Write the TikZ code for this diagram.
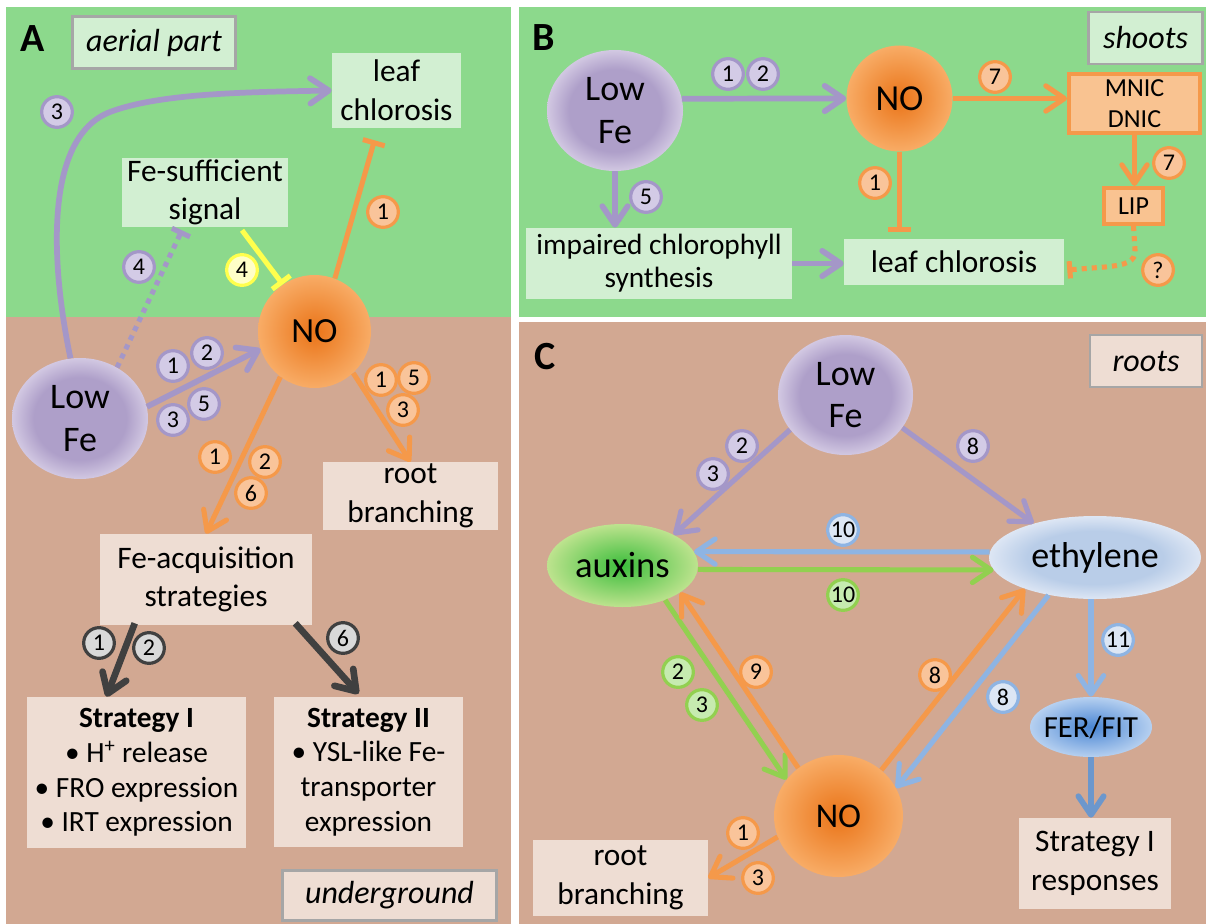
\documentclass[tikz,border=0pt]{standalone}
\usepackage{fontspec}
\setmainfont{Carlito}
\usetikzlibrary{arrows.meta,shapes.geometric,calc}
\definecolor{bggreen}{HTML}{8CD98C}
\definecolor{bgbrown}{HTML}{D2A892}
\definecolor{gbx}{HTML}{D2EFD2}
\definecolor{bbx}{HTML}{EEDDD3}
\definecolor{lblline}{HTML}{A6A6A6}
\definecolor{pline}{HTML}{A497C8}
\definecolor{pfill}{HTML}{D3CBE6}
\definecolor{oline}{HTML}{F5994A}
\definecolor{ofill}{HTML}{F9C49A}
\definecolor{yline}{HTML}{FFFF4D}
\definecolor{yfill}{HTML}{FFFFC8}
\definecolor{kline}{HTML}{404040}
\definecolor{kfill}{HTML}{D9D9D9}
\definecolor{bline}{HTML}{8EB4E3}
\definecolor{bfill}{HTML}{DCE6F4}
\definecolor{gline}{HTML}{92D050}
\definecolor{gfill}{HTML}{C6EBB0}
\definecolor{dbline}{HTML}{6C97CC}
\definecolor{mfill}{HTML}{F9C391}
\definecolor{lfin}{HTML}{AE9FC9}
\definecolor{lfout}{HTML}{D2C8E2}
\definecolor{noin}{HTML}{EA7418}
\definecolor{noout}{HTML}{F8AC66}
\definecolor{auin}{HTML}{3CBD3C}
\definecolor{auout}{HTML}{BDE38E}
\definecolor{etin}{HTML}{B9CDE8}
\definecolor{etout}{HTML}{DDE6F4}
\definecolor{ffin}{HTML}{4A86D4}
\definecolor{ffout}{HTML}{B6D0F0}
\pgfdeclareradialshading{lfshade}{\pgfpoint{0bp}{0bp}}{color(0bp)=(lfin); color(17bp)=(lfin); color(25bp)=(lfout); color(50bp)=(lfout)}
\pgfdeclareradialshading{noshade}{\pgfpoint{0bp}{0bp}}{color(0bp)=(noin); color(25bp)=(noout); color(50bp)=(noout)}
\pgfdeclareradialshading{aushade}{\pgfpoint{0bp}{0bp}}{color(0bp)=(auin); color(25bp)=(auout); color(50bp)=(auout)}
\pgfdeclareradialshading{etshade}{\pgfpoint{0bp}{0bp}}{color(0bp)=(etin); color(16bp)=(etin); color(25bp)=(etout); color(50bp)=(etout)}
\pgfdeclareradialshading{ffshade}{\pgfpoint{0bp}{0bp}}{color(0bp)=(ffin); color(25bp)=(ffout); color(50bp)=(ffout)}
\newcommand\fsz[2]{\fontsize{#1}{#2}\selectfont}
\begin{document}
\begin{tikzpicture}[x=0.75pt,y=-0.75pt,
  every node/.style={inner sep=0pt, align=center},
  gbox/.style={fill=gbx, font=\fsz{23.5}{29}},
  bbox/.style={fill=bbx, font=\fsz{23.5}{29}},
  lblbox/.style={draw=lblline, line width=2.2pt, font=\fsz{24}{24}\itshape},
  plab/.style={font=\fsz{30}{30}\bfseries},
  oval/.style={ellipse, font=\fsz{27}{32}},
  badge/.style={circle, minimum size=23pt, line width=2.4pt, font=\fsz{18}{18}},
  bp/.style={badge, fill=pfill, draw=pline},
  bo/.style={badge, fill=ofill, draw=oline},
  by/.style={badge, fill=yfill, draw=yline},
  bk/.style={badge, fill=kfill, draw=kline},
  bb/.style={badge, fill=bfill, draw=bline},
  bg/.style={badge, fill=gfill, draw=gline},
  >={Straight Barb[length=14pt,width=19pt,round]},
  pa/.style={draw=pline, line width=4.3pt, ->},
  oa/.style={draw=oline, line width=3.8pt, ->},
  ob/.style={draw=oline, line width=3.8pt, -{Bar[width=17pt]}},
  ka/.style={draw=kline, line width=5pt, ->},
  ba/.style={draw=bline, line width=3.8pt, ->},
  ga/.style={draw=gline, line width=3.8pt, ->},
  dba/.style={draw=dbline, line width=4.3pt, ->},
  dotl/.style={line width=3.8pt, dash pattern=on 3.8pt off 3.8pt}
]
\useasboundingbox (0,0) rectangle (1206,924);
\fill[white] (0,0) rectangle (1206,924);
\fill[bggreen] (6,7) rectangle (511,317);
\fill[bgbrown] (6,317) rectangle (511,924);
\fill[bggreen] (519,7) rectangle (1206,317);
\fill[bgbrown] (519,322) rectangle (1206,924);

% ---------------- Panel A ----------------
\node[plab] (labA) at (33,39) {A};
\node[lblbox, fill=gbx, minimum width=122pt, minimum height=39.5pt] (aer) at (154,42.5) {aerial part};
\node[gbox, minimum width=96.75pt, minimum height=56.25pt] (lcA) at (396.5,90.5) {leaf\\chlorosis};
\node[gbox, minimum width=124.5pt, minimum height=51.75pt] (fes) at (205,192.5) {Fe-sufficient\\signal};
\node[circle, shading=noshade, minimum size=84.75pt, font=\fsz{26.5}{26.5}] (noA) at (314.5,331.5) {NO};
\node[oval, shading=lfshade, minimum width=102pt, minimum height=90.75pt] (lfA) at (80,418.5) {Low\\Fe};
\node[bbox, minimum width=131.25pt, minimum height=51pt] (rbA) at (410.5,496) {root\\branching};
\node[bbox, minimum width=159pt, minimum height=68.25pt] (faq) at (206,579.5) {Fe-acquisition\\strategies};
\node[bbox, font=\fsz{22}{26}, minimum width=164.25pt, minimum height=113.25pt] (s1) at (136.5,772.5)
  {\textbf{Strategy I}\\• H\textsuperscript{+} release\\• FRO expression\\• IRT expression};
\node[bbox, font=\fsz{22}{26}, minimum width=141.75pt, minimum height=112.5pt] (s2) at (368.5,772)
  {\textbf{Strategy II}\\• YSL-like Fe-\\transporter\\expression};
\node[lblbox, fill=bbx, minimum width=161pt, minimum height=38pt] (ug) at (389.5,895.5) {underground};

\draw[pa] (lfA.99) .. controls (50,260) and (45,137) .. (110,112) .. controls (160,93) and (250,92) .. (lcA.west);
\draw[pline, dotl, -{Bar[width=15pt]}] (lfA.54) -- ($(fes.south)+(-23,3)$);
\draw[yline, line width=3.8pt, -{Bar[width=17pt]}] ($(fes.south)+(37,3)$) -- (noA.124);
\draw[ob] (noA.69) -- ($(lcA.south)+(-22,12)$);
\draw[pa] (lfA.10) -- (noA.198);
\draw[oa] (noA.233) -- (faq.north);
\draw[oa] (noA.313) -- (rbA.north);
\draw[ka] ($(faq.south west)+(35,-2)$) -- ($(s1.north)+(-30,0)$);
\draw[ka] ($(faq.south east)+(-17,-2)$) -- ($(s2.north)+(-10,-3)$);

\node[bp] (a3) at (57,112) {3};
\node[bp] (a4) at (139,267) {4};
\node[by] (a4y) at (242,270) {4};
\node[bo] (a1o) at (383,212) {1};
\node[bp] (a1p) at (173,366) {1};
\node[bp] (a2p) at (207,353) {2};
\node[bp] (a3p) at (173,420) {3};
\node[bp] (a5p) at (204,404) {5};
\node[bo] (r1) at (381,380) {1};
\node[bo] (r5) at (414,378) {5};
\node[bo] (r3) at (403,410) {3};
\node[bo] (f1) at (215,457) {1};
\node[bo] (f2) at (265,462) {2};
\node[bo] (f6) at (251,493) {6};
\node[bk] (k1) at (99,643) {1};
\node[bk] (k2) at (149,648) {2};
\node[bk] (k6) at (343,638) {6};

% ---------------- Panel B ----------------
\node[plab] (labB) at (544,38) {B};
\node[lblbox, fill=gbx, minimum width=86pt, minimum height=39pt] (sh) at (1145.5,38) {shoots};
\node[oval, shading=lfshade, minimum width=102pt, minimum height=90.75pt] (lfB) at (615,110.5) {Low\\Fe};
\node[circle, shading=noshade, minimum size=79.5pt, font=\fsz{27.5}{27.5}] (noB) at (899.5,98.5) {NO};
\node[draw=oline, fill=mfill, line width=3pt, minimum width=98.25pt, minimum height=44.25pt, font=\fsz{19.5}{23}] (mn) at (1134.5,103.5) {MNIC\\DNIC};
\node[draw=oline, fill=mfill, line width=3pt, minimum width=44.25pt, minimum height=27pt, font=\fsz{19.5}{23}] (lip) at (1133.5,206) {LIP};
\node[gbox, font=\fsz{22}{25}, minimum width=199.5pt, minimum height=53.25pt] (imp) at (659,263.5) {impaired chlorophyll\\synthesis};
\node[gbox, minimum width=165pt, minimum height=34.5pt] (lcB) at (954,262) {leaf chlorosis};

\draw[pa] (lfB.10) -- (noB.west);
\draw[oa] (noB.east) -- (noB.east -| mn.west);
\draw[oa] (mn.south) -- (mn.south |- lip.north);
\draw[pa] (lfB.south) -- (lfB.south |- imp.north);
\draw[ob] (noB.south) -- ($(noB.south |- lcB.north)+(0,-7)$);
\draw[pa] (imp.east) -- (imp.east -| lcB.west);
\draw[oline, dotl, -{Bar[width=13pt]}] (lip.south) -- (1135,250) .. controls (1136,262) and (1125,265) .. (1105,267) -- ($(lcB.east)+(3,8)$);

\node[bp] (b1) at (728,74) {1};
\node[bp] (b2) at (763,74) {2};
\node[bo] (b7) at (995,77) {7};
\node[bp] (b5) at (646,197) {5};
\node[bo] (b1o) at (875,183) {1};
\node[bo] (b7b) at (1169,163) {7};
\node[bo] (bq) at (1158,270) {?};

% ---------------- Panel C ----------------
\node[plab] (labC) at (545,357) {C};
\node[lblbox, fill=bbx, minimum width=84pt, minimum height=39pt] (rt) at (1146,361) {roots};
\node[oval, shading=lfshade, minimum width=101.25pt, minimum height=90pt] (lfC) at (845.5,395) {Low\\Fe};
\node[ellipse, shading=aushade, minimum width=113.25pt, minimum height=62.25pt, font=\fsz{27.5}{27.5}] (aux) at (622.5,565.5) {auxins};
\node[ellipse, shading=etshade, minimum width=159pt, minimum height=62.25pt, font=\fsz{27}{27}] (eth) at (1095,557.5) {ethylene};
\node[ellipse, shading=noshade, minimum width=96.75pt, minimum height=91.5pt, font=\fsz{26}{26}] (noC) at (838.5,816) {NO};
\node[ellipse, shading=ffshade, minimum width=91.5pt, minimum height=45pt, font=\fsz{23}{23}] (fer) at (1091,727) {\makebox[0pt]{FER/FIT}};
\node[bbox, minimum width=114pt, minimum height=68.25pt] (s1r) at (1095,863.5) {Strategy I\\responses};
\node[bbox, minimum width=131.25pt, minimum height=57pt] (rbC) at (620.5,878) {root\\branching};

\draw[pa, line width=3.9pt] (lfC.212) -- (aux.31);
\draw[pa, line width=3.9pt] (lfC.330) -- (eth.151);
\draw[ba] (eth.177) -- (aux.11);
\draw[ga] (aux.357) -- (eth.187);
\draw[ga] (aux.321) -- (noC.145);
\draw[oa] (noC.130) -- (aux.335);
\draw[oa] (noC.47) -- (eth.204);
\draw[ba] (eth.219) -- (noC.26);
\draw[ba] (eth.south -| fer.north) -- (fer.north);
\draw[dba] (fer.south) -- (fer.south |- s1r.north);
\draw[oa] (noC.199) -- (rbC.east);

\node[bp] (c2) at (742,446) {2};
\node[bp] (c3) at (713,474) {3};
\node[bp] (c8) at (973,446) {8};
\node[bb] (c10b) at (843,530) {10};
\node[bg] (c10g) at (843,595) {10};
\node[bg] (c2g) at (678,672) {2};
\node[bg] (c3g) at (702,705) {3};
\node[bo] (c9) at (756,672) {9};
\node[bo] (c8o) at (935,675) {8};
\node[bb] (c8b) at (1003,697) {8};
\node[bb] (c11) at (1118,640) {11};
\node[bo] (c1o) at (743,833) {1};
\node[bo] (c3o) at (758,878) {3};
\end{tikzpicture}
\end{document}
